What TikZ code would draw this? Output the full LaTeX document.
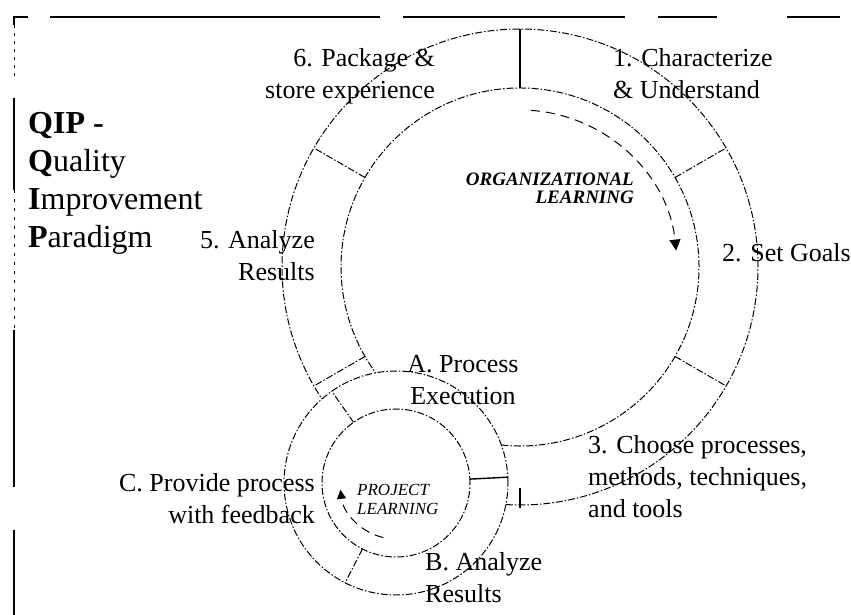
\documentclass[tikz,border=0pt]{standalone}
\usepackage{fontspec}
\setmainfont{Liberation Serif}
\usetikzlibrary{arrows.meta}

\begin{document}
\begin{tikzpicture}[x=1pt,y=1pt,
  ringline/.style={line width=1pt, dash pattern=on 7pt off 2pt on 1.5pt off 2pt},
  solidline/.style={line width=1.4pt},
  frameline/.style={line width=1.5pt},
  flow/.style={line width=1pt, dash pattern=on 9pt off 6pt},
  lbl/.style={font=\fontsize{26}{32}\selectfont, inner sep=0pt},
  titletext/.style={font=\fontsize{32}{38}\selectfont, inner sep=0pt, align=left},
  orgtext/.style={font=\fontsize{19}{18}\selectfont\bfseries\itshape, inner sep=0pt, align=right},
  projtext/.style={font=\fontsize{17}{19}\selectfont\itshape, inner sep=0pt, align=left}]

\useasboundingbox (0,0) rectangle (851,615);

% frame (top and left edges)
\draw[frameline] (14,590) -- (14,598) -- (28,598);
\draw[frameline] (50,598) -- (380,598);
\draw[frameline] (403,598) -- (625,598);
\draw[frameline] (658,598) -- (717,598);
\draw[frameline] (787,598) -- (840,598);
\draw[line width=1pt, dash pattern=on 3pt off 5pt] (14,590) -- (14,535);
\draw[frameline] (14,517) -- (14,425);
\draw[line width=1pt, dash pattern=on 3pt off 6pt] (14,425) -- (14,285);
\draw[frameline] (14,285) -- (14,128);
\draw[frameline] (14,85) -- (14,0);

% centres of the two cycles
\coordinate (B) at (520,348);
\coordinate (S) at (396,132);

% organizational ring, open where the project ring sits
\draw[ringline] (B) ++(-93.4:238pt) arc[start angle=-93.4, end angle=213.7, radius=238pt];
\draw[ringline] (B) ++(-96:179pt) arc[start angle=-96, end angle=216.3, radius=179pt];
\draw[solidline] (B) ++(90:179pt) -- ++(90:59pt);
\foreach \a in {30,-30,150,210}
  \draw[ringline] (B) ++(\a:179pt) -- ++(\a:59pt);
\draw[solidline] (B) ++(0,-221) -- ++(0,-20);

% project ring
\draw[ringline] (S) circle[radius=112pt];
\draw[ringline] (S) circle[radius=74pt];
\draw[solidline] (S) ++(3:74pt) -- ++(3:38pt);
\foreach \a in {125,243}
  \draw[ringline] (S) ++(\a:74pt) -- ++(\a:38pt);

% learning directions
\draw[flow, -{Triangle[width=11pt,length=11pt]}]
  (B) ++(86:157pt) arc[start angle=86, end angle=6, radius=157pt];
\draw[flow, -{Triangle[width=9pt,length=9pt]}]
  (S) ++(257:56pt) arc[start angle=257, end angle=187, radius=56pt];

% title
\node[titletext, anchor=north west] (title) at (28,503)
  {\textbf{QIP -}\\\textbf{Q}uality\\\textbf{I}mprovement\\\textbf{P}aradigm};

% steps of the organizational cycle
\node[lbl, anchor=north west, align=left] (s1) at (613,567) {1. Characterize\\\& Understand};
\node[lbl, anchor=north west] (s2) at (722,372) {2. Set Goals};
\node[lbl, anchor=north west, align=left] (s3) at (588,180)
  {3. Choose processes,\\methods, techniques,\\and tools};
\node[lbl, anchor=north east, align=right] (s5) at (315,385) {5. Analyze\\Results};
\node[lbl, anchor=north east, align=right] (s6) at (435,567) {6. Package \&\\store experience};

% steps of the project cycle
\node[lbl, anchor=north, align=center] (pa) at (463,260) {A. Process\\Execution};
\node[lbl, anchor=north west, align=left] (pb) at (425,63) {B. Analyze\\Results};
\node[lbl, anchor=north east, align=right] (pc) at (315,142) {C. Provide process\\with feedback};

% cycle names
\node[orgtext, anchor=north east] (org) at (634,442) {ORGANIZATIONAL\\LEARNING};
\node[projtext, anchor=north west] (proj) at (357,131) {PROJECT\\LEARNING};
\end{tikzpicture}
\end{document}
